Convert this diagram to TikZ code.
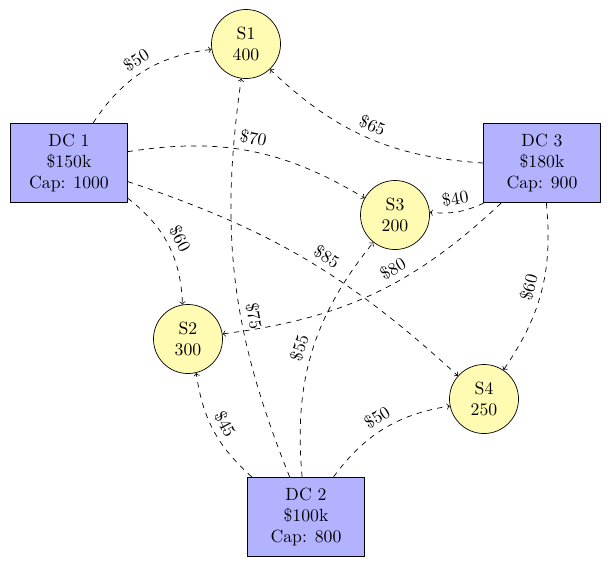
\documentclass[tikz,border=0pt]{standalone}
\begin{document}
\begin{tikzpicture}[x=0.565pt,y=-0.565pt,
 dc/.style={draw,fill=blue!30,align=center,minimum width=66pt,minimum height=45pt,inner sep=2pt},
 st/.style={draw,circle,fill=yellow!30,align=center,minimum size=39pt,inner sep=1pt},
 e/.style={dashed,->}, lab/.style={sloped,above}]
\useasboundingbox (0,0) rectangle (613,570);
\node[st] (S1) at (246,44) {S1\\400};
\node[st] (S2) at (188,339) {S2\\300};
\node[st] (S3) at (395,215) {S3\\200};
\node[st] (S4) at (484,399) {S4\\250};
\node[dc] (D1) at (69,163) {DC 1\\\$150k\\Cap: 1000};
\node[dc] (D2) at (306,517) {DC 2\\\$100k\\Cap: 800};
\node[dc] (D3) at (542,163) {DC 3\\\$180k\\Cap: 900};
\draw[e] (D1) to[bend left=25] node[lab]{\$50} (S1);
\draw[e] (D1) to[bend left=20] node[lab,pos=.5]{\$70} (S3);
\draw[e] (D1) to[bend left=12] node[lab,pos=.55]{\$85} (S4);
\draw[e] (D1) to[bend left=25] node[lab]{\$60} (S2);
\draw[e] (D2) to[bend left=20] node[lab]{\$45} (S2);
\draw[e] (D2) to[bend left=15] node[lab,pos=.4]{\$75} (S1);
\draw[e] (D2) to[bend left=22] node[lab]{\$55} (S3);
\draw[e] (D2) to[bend left=22] node[lab]{\$50} (S4);
\draw[e] (D3.west) to[bend left=20] node[lab]{\$65} (S1);
\draw[e] (D3) to[bend left=15] node[lab]{\$40} (S3);
\draw[e] (D3) to[bend left=18] node[lab,pos=.4]{\$80} (S2);
\draw[e] (D3) to[bend left=20] node[lab]{\$60} (S4);
\end{tikzpicture}
\end{document}
